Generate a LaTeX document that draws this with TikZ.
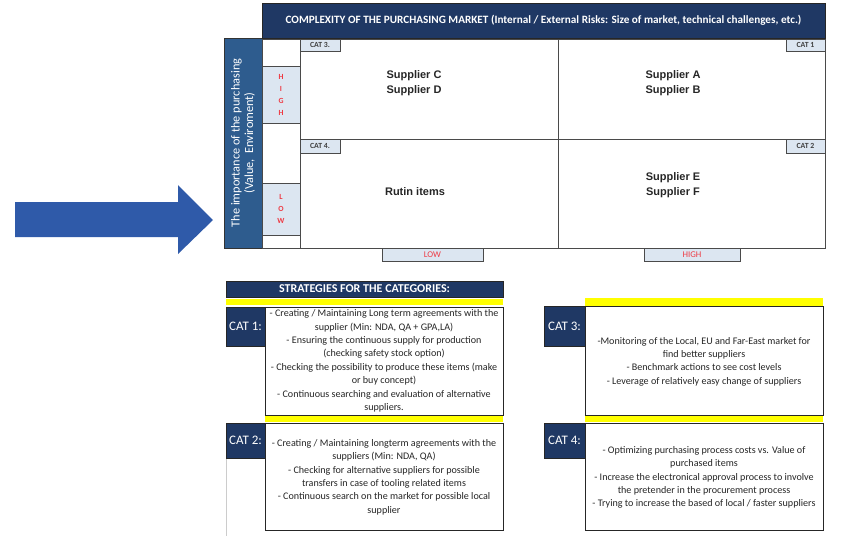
\documentclass[tikz,border=0pt]{standalone}
\usepackage{fontspec}
\setmainfont{Carlito}
\newfontfamily\arialf{Liberation Sans}
\definecolor{navy}{HTML}{1F3864}
\definecolor{midblue}{HTML}{2E5C8E}
\definecolor{arrowblue}{HTML}{2F5AA9}
\definecolor{lightcell}{HTML}{DCE6F1}
\definecolor{redtxt}{HTML}{EE3B44}
\definecolor{gridline}{HTML}{4A4A4A}
\definecolor{yel}{HTML}{FFFF00}
\definecolor{tabtxt}{HTML}{404040}
\begin{document}
\begin{tikzpicture}[x=1pt,y=-1pt,
  base/.style={inner sep=0pt, outer sep=0pt, anchor=north west},
  cell/.style={base, draw=gridline, line width=0.8pt},
  lcell/.style={cell, fill=lightcell},
  tabbox/.style={cell, fill=lightcell, font=\fontsize{7.8}{8}\selectfont\bfseries, text=tabtxt},
  navybox/.style={base, fill=navy, draw=black!85, line width=0.9pt, text=white},
  txtbox/.style={base, draw=black!85, line width=0.9pt, fill=white},
  yelbar/.style={base, fill=yel},
  supp/.style={font=\arialf\fontsize{11}{15}\selectfont\bfseries, align=center, text=black!85},
  body/.style={font=\fontsize{10.1}{13.4}\selectfont, align=center, text=black!85},
  redl/.style={font=\fontsize{7.8}{12}\selectfont\bfseries, align=center, text=redtxt},
  catlab/.style={navybox, font=\fontsize{13}{15}\selectfont}
]
\useasboundingbox (0,0) rectangle (845,538);

% big arrow
\fill[arrowblue] (15,202) -- (178,202) -- (178,185) -- (213,220) -- (178,254) -- (178,237) -- (15,237) -- cycle;

% vertical label
\node[base, fill=midblue, draw=black!80, line width=0.9pt, minimum width=38pt, minimum height=210pt] (imp) at (224,38) {};
\node[rotate=90, text=white, align=center, font=\fontsize{12.3}{13.5}\selectfont] (imptxt) at (imp.center) {The importance of the purchasing\\(Value,\ \ Enviroment)};

% header
\node[navybox, minimum width=563pt, minimum height=35pt] (head) at (262,3) {};
\node[text=white, font=\fontsize{11.2}{12}\selectfont\bfseries] (headtxt) at (head.center) {COMPLEXITY OF THE PURCHASING MARKET (Internal / External Risks: Size of market, technical challenges, etc.)};

% left column
\node[cell, minimum width=38pt, minimum height=27pt] (c1) at (262,39) {};
\node[lcell, minimum width=38pt, minimum height=57pt] (chigh) at (262,66) {};
\node[cell, minimum width=38pt, minimum height=60pt] (c2) at (262,123) {};
\node[lcell, minimum width=38pt, minimum height=52pt] (clow) at (262,183) {};
\node[cell, minimum width=38pt, minimum height=13pt] (c3) at (262,235) {};
\node[redl] (hightxt) at (chigh.center) {H\\I\\G\\H};
\node[redl] (lowtxt) at (clow.center) {L\\O\\W};

% quadrants
\node[cell, minimum width=258pt, minimum height=100pt] (q3) at (300,39) {};
\node[cell, minimum width=267pt, minimum height=100pt] (q1) at (558,39) {};
\node[cell, minimum width=258pt, minimum height=109pt] (q4) at (300,139) {};
\node[cell, minimum width=267pt, minimum height=109pt] (q2) at (558,139) {};

% tabs
\node[tabbox, minimum width=40pt, minimum height=12pt] (t3) at (300,39) {CAT 3.};
\node[tabbox, minimum width=39pt, minimum height=12pt] (t1) at (786,39) {CAT 1};
\node[tabbox, minimum width=40pt, minimum height=14pt] (t4) at (300,139) {CAT 4.};
\node[tabbox, minimum width=39pt, minimum height=14pt] (t2) at (786,139) {CAT 2};

% supplier texts
\node[supp] (scd) at (414,83.5) {Supplier C\\Supplier D};
\node[supp] (sab) at (673,83.5) {Supplier A\\Supplier B};
\node[supp] (rut) at (415,192) {Rutin items};
\node[supp] (sef) at (673,185.5) {Supplier E\\Supplier F};

% bottom axis boxes
\node[lcell, minimum width=101pt, minimum height=13pt, font=\fontsize{8.8}{9}\selectfont, text=redtxt] (blow) at (382,248) {LOW};
\node[lcell, minimum width=96pt, minimum height=13pt, font=\fontsize{8.8}{9}\selectfont, text=redtxt] (bhigh) at (644,248) {HIGH};

% faint guide line
\draw[black!20, line width=0.6pt] (226,458) -- (226,536);

% strategies header
\node[navybox, minimum width=277pt, minimum height=16pt, font=\fontsize{12}{13}\selectfont\bfseries] (strat) at (226,281) {STRATEGIES FOR THE CATEGORIES:};

% yellow bars
\node[yelbar, minimum width=277pt, minimum height=6pt] (y0) at (226,299) {};
\node[yelbar, minimum width=238pt, minimum height=7pt] (y1) at (265,415) {};
\node[yelbar, minimum width=238pt, minimum height=8pt] (y2) at (585,298) {};
\node[yelbar, minimum width=238pt, minimum height=7pt] (y3) at (585,415) {};

% category labels
\node[catlab, minimum width=39pt, minimum height=39pt] (l1) at (226,307) {CAT 1:};
\node[catlab, minimum width=39pt, minimum height=35pt] (l2) at (226,423) {CAT 2:};
\node[catlab, minimum width=41pt, minimum height=40pt] (l3) at (544,306) {CAT 3:};
\node[catlab, minimum width=41pt, minimum height=35pt] (l4) at (544,423) {CAT 4:};

% text boxes
\node[txtbox, minimum width=238pt, minimum height=108pt] (b1) at (265,307) {};
\node[txtbox, minimum width=238pt, minimum height=107pt] (b2) at (265,423) {};
\node[txtbox, minimum width=238pt, minimum height=109pt] (b3) at (585,306) {};
\node[txtbox, minimum width=238pt, minimum height=107pt] (b4) at (585,423) {};

\node[body] (b1t) at (384,361) {- Creating / Maintaining Long term agreements with the\\supplier (Min: NDA, QA + GPA,LA)\\- Ensuring the continuous supply for production\\(checking safety stock option)\\- Checking the possibility to produce these items (make\\or buy concept)\\- Continuous searching and evaluation of alternative\\suppliers.};
\node[body] (b2t) at (384,477) {- Creating / Maintaining longterm agreements with the\\suppliers (Min: NDA, QA)\\- Checking for alternative suppliers for possible\\transfers in case of tooling related items\\- Continuous search on the market for possible local\\supplier};
\node[body] (b3t) at (704,361.5) {-Monitoring of the Local, EU and Far-East market for\\find better suppliers\\- Benchmark actions to see cost levels\\- Leverage of relatively easy change of suppliers};
\node[body] (b4t) at (704,477.5) {- Optimizing purchasing process costs vs. Value of\\purchased items\\- Increase the electronical approval process to involve\\the pretender in the procurement process\\- Trying to increase the based of local / faster suppliers};
\end{tikzpicture}
\end{document}
